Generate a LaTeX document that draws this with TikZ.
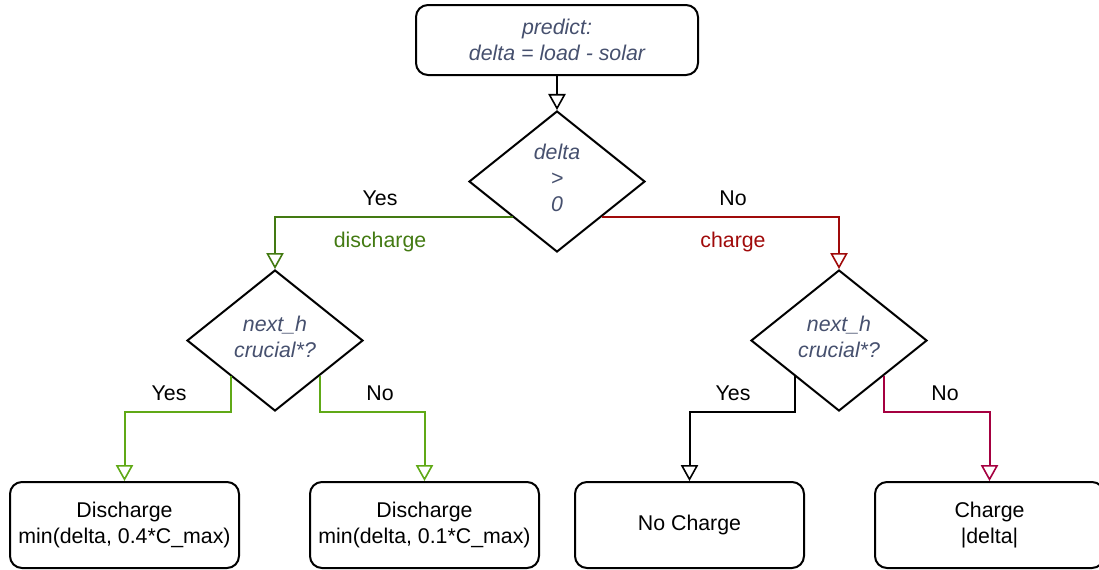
\documentclass[tikz,border=0pt]{standalone}
\usepackage{fontspec}
\setmainfont{Liberation Sans}
\usetikzlibrary{shapes.geometric,arrows.meta,calc}
\definecolor{slate}{HTML}{46506E}
\definecolor{dgreen}{HTML}{437A12}
\definecolor{lgreen}{HTML}{60A917}
\definecolor{dred}{HTML}{A00A0A}
\definecolor{crimson}{HTML}{A50040}
\tikzset{
  box/.style={draw=black, line width=1.5pt, rounded corners=9pt, align=center,
    minimum width=171.75pt, minimum height=64.5pt, inner sep=0pt,
    font=\fontsize{16}{20}\selectfont},
  topbox/.style={box, minimum width=211.5pt, minimum height=52.5pt, text=slate,
    font=\fontsize{16}{19.5}\selectfont\itshape},
  decision/.style={draw=black, line width=1.5pt, diamond, inner sep=0pt,
    minimum width=132pt, minimum height=105.75pt},
  dtext/.style={align=center, text=slate, inner sep=0pt, yshift=2.5pt,
    font=\fontsize{16}{19.5}\selectfont\itshape},
  conn/.style={line width=1.5pt, -{Triangle[width=13pt,length=12pt,fill=white,line width=1.2pt]}},
  lbl/.style={font=\fontsize{16}{19}\selectfont, inner sep=0pt}
}
\begin{document}
\begin{tikzpicture}[x=0.75pt,y=-0.75pt]
\useasboundingbox (0,0) rectangle (1099,569);
\node[topbox] (top) at (557,40) {predict:\\delta = load - solar};
\node[decision, label={[dtext]center:delta\\>\\0}] (d1) at (557,181.5) {};
\node[decision, label={[dtext]center:next\_h\\crucial*?}] (d2) at (275,340.5) {};
\node[decision, label={[dtext]center:next\_h\\crucial*?}] (d3) at (839,340.5) {};
\node[box] (b1) at (124.5,525) {Discharge\\min(delta, 0.4*C\_max)};
\node[box] (b2) at (424.5,525) {Discharge\\min(delta, 0.1*C\_max)};
\node[box] (b3) at (689.5,525) {No Charge};
\node[box] (b4) at (989.5,525) {Charge\\|delta|};

\coordinate (d1l) at ($(d1.west)!0.5!(d1.south)$);
\coordinate (d1r) at ($(d1.east)!0.5!(d1.south)$);
\coordinate (d2l) at ($(d2.west)!0.5!(d2.south)$);
\coordinate (d2r) at ($(d2.east)!0.5!(d2.south)$);
\coordinate (d3l) at ($(d3.west)!0.5!(d3.south)$);
\coordinate (d3r) at ($(d3.east)!0.5!(d3.south)$);

\draw[conn] (top) -- (d1);
\draw[conn, dgreen] (d1l) -| (d2.north);
\draw[conn, dred] (d1r) -| (d3.north);
\draw[conn, lgreen] (d2l) -- (d2l |- d2.south) -| (b1.north);
\draw[conn, lgreen] (d2r) -- (d2r |- d2.south) -| (b2.north);
\draw[conn, black] (d3l) -- (d3l |- d3.south) -| (b3.north);
\draw[conn, crimson] (d3r) -- (d3r |- d3.south) -| (b4.north);

\node[lbl] (ly1) at (380,198) {Yes};
\node[lbl, text=dgreen] (ldis) at (380,242) {discharge};
\node[lbl] (ln1) at (733,198) {No};
\node[lbl, text=dred] (lch) at (733,242) {charge};
\node[lbl] (ly2) at (169,393) {Yes};
\node[lbl] (ln2) at (380,393) {No};
\node[lbl] (ly3) at (733,393) {Yes};
\node[lbl] (ln3) at (945,393) {No};
\end{tikzpicture}
\end{document}
